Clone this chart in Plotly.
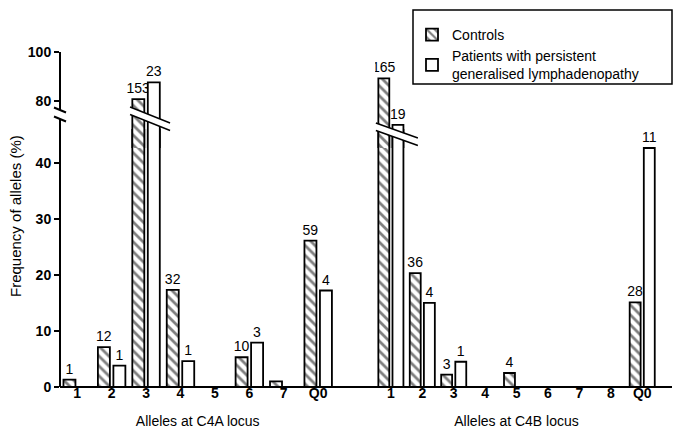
import plotly.graph_objects as go

# ---------------- data ----------------
c4a_alleles = ["1", "2", "3", "4", "5", "6", "7", "Q0"]
c4b_alleles = ["1", "2", "3", "4", "5", "6", "7", "8", "Q0"]

c4a_controls = [1.3, 7.1, 80.9, 17.3, None, 5.3, 1.0, 26.1]
c4a_patients = [None, 3.8, 87.7, 4.6, None, 7.9, None, 17.2]
c4a_controls_n = ["1", "12", "153", "32", "", "10", "", "59"]
c4a_patients_n = ["", "1", "23", "1", "", "3", "", "4"]

c4b_controls = [89.3, 20.3, 2.2, None, 2.5, None, None, None, 15.1]
c4b_patients = [70.4, 15.0, 4.5, None, None, None, None, None, 42.6]
c4b_controls_n = ["165", "36", "3", "", "4", "", "", "", "28"]
c4b_patients_n = ["19", "4", "1", "", "", "", "", "", "11"]

series_names = ["Controls", "Patients with persistent<br>generalised lymphadenopathy"]
lower_ticks = [0, 10, 20, 30, 40]
upper_ticks = [80, 100]

# ---------------- layout geometry ----------------
W, H = 674, 439
L, R, T, B = 60, 2, 52, 52
PW, PH = W - L - R, H - T - B
FONT = "Liberation Sans, Arial, Helvetica, sans-serif"


def py(p):  # pixel y -> paper y
    return (H - B - p) / PH


def pxx(p):  # pixel x -> paper x
    return (p - L) / PW


LEFT_DOM = [0.0, 0.45]
RIGHT_DOM = [0.515, 0.977]
LOWER_TOP_PX, UPPER_BOT_PX = 129, 148
LOWER_RANGE = [0, (H - B - LOWER_TOP_PX) / 5.61]
UPPER_RANGE = [100 - (UPPER_BOT_PX - T) / 2.465, 100]

hatch = dict(shape="\\", size=7, solidity=0.4, fgcolor="black", bgcolor="white")
plain = dict(shape="", fgcolor="black", bgcolor="white")


def split_text(vals, labels, upper):
    out = []
    for v, t in zip(vals, labels):
        if v is None:
            out.append("")
        elif upper:
            out.append(t if v > LOWER_RANGE[1] else "")
        else:
            out.append(t if v <= LOWER_RANGE[1] else "")
    return out


fig = go.Figure()
groups = [
    ("x", c4a_alleles, c4a_controls, c4a_controls_n, c4a_patients, c4a_patients_n),
    ("x2", c4b_alleles, c4b_controls, c4b_controls_n, c4b_patients, c4b_patients_n),
]
for gi, (xa, cats, cv, cn, pv, pn) in enumerate(groups):
    for yi, ya in enumerate(["y", "y2"]):
        upper = ya == "y2"
        for si, (vals, labels, pat) in enumerate([(cv, cn, hatch), (pv, pn, plain)]):
            fig.add_trace(go.Bar(
                x=cats, y=vals, xaxis=xa, yaxis=ya,
                name=series_names[si], legendgroup=str(si),
                showlegend=(gi == 0 and not upper),
                offsetgroup=str(si),
                text=split_text(vals, labels, upper),
                textposition="outside", constraintext="none",
                textfont=dict(family=FONT, size=14, color="black"),
                marker=dict(color="white", pattern=pat,
                            line=dict(color="black", width=1.8)),
                hoverinfo="skip",
            ))

xcommon = dict(type="category", showline=False, showgrid=False, zeroline=False,
               ticks="", ticklabelstandoff=-4,
               tickfont=dict(family=FONT, size=14, color="black", weight="bold"),
               anchor="y", fixedrange=True)
ycommon = dict(showline=False, showgrid=False, zeroline=False, ticks="outside",
               ticklen=5, tickwidth=2, tickcolor="black", anchor="x",
               tickfont=dict(family=FONT, size=14, color="black", weight="bold"))

fig.update_layout(
    width=W, height=H,
    margin=dict(l=L, r=R, t=T, b=B, autoexpand=False),
    paper_bgcolor="white", plot_bgcolor="rgba(0,0,0,0)",
    font=dict(family=FONT, size=14, color="black"),
    barmode="group", bargap=0.1, bargroupgap=0.226,
    xaxis=dict(domain=LEFT_DOM, categoryarray=c4a_alleles, categoryorder="array",
               title=dict(text="Alleles at C4A locus", font=dict(size=14), standoff=16),
               **xcommon),
    xaxis2=dict(domain=RIGHT_DOM, categoryarray=c4b_alleles, categoryorder="array",
                title=dict(text="Alleles at C4B locus", font=dict(size=14), standoff=16),
                **xcommon),
    yaxis=dict(domain=[0, py(LOWER_TOP_PX)], range=LOWER_RANGE, tickvals=lower_ticks, **ycommon),
    yaxis2=dict(domain=[py(UPPER_BOT_PX), 1], range=UPPER_RANGE, tickvals=upper_ticks, **ycommon),
    legend=dict(x=pxx(412), y=py(19), xanchor="left", yanchor="top",
                borderwidth=0, bgcolor="rgba(0,0,0,0)",
                font=dict(family=FONT, size=14, color="black"),
                traceorder="normal", itemclick=False),
    showlegend=True,
)

shapes = []
LINE = dict(color="black", width=1.5)
# legend frame
shapes.append(dict(type="rect", xref="paper", yref="paper",
                   x0=pxx(413), x1=pxx(672), y0=py(84), y1=py(10),
                   line=dict(color="black", width=1.5), fillcolor="rgba(0,0,0,0)"))
# x baseline
shapes.append(dict(type="line", xref="paper", yref="paper", x0=0, x1=1, y0=0, y1=0,
                   line=dict(color="black", width=2)))
# broken y axis line
shapes.append(dict(type="line", xref="paper", yref="paper", x0=0, x1=0, y0=0, y1=py(119),
                   line=dict(color="black", width=2)))
shapes.append(dict(type="line", xref="paper", yref="paper", x0=0, x1=0, y0=py(110), y1=1,
                   line=dict(color="black", width=2)))
for yc in (110, 119):
    shapes.append(dict(type="line", xref="paper", yref="paper",
                       x0=pxx(54), x1=pxx(66), y0=py(yc - 2.5), y1=py(yc + 2.5),
                       line=dict(color="black", width=2)))


def cat_center_px(dom, n, i):
    return L + PW * (dom[0] + (i + 0.5) / n * (dom[1] - dom[0]))


# break bands across the tall bars
breaks = [
    (cat_center_px(LEFT_DOM, len(c4a_alleles), 2) + 4, 20, 115, 0.4),
    (cat_center_px(RIGHT_DOM, len(c4b_alleles), 0) + 6, 21, 130.5, 0.36),
]
GAP = 7.5
for xc, hw, yc, slope in breaks:
    xa, xb = xc - hw, xc + hw
    ya, yb = yc - slope * hw, yc + slope * hw
    path = "M {:.4f},{:.4f} L {:.4f},{:.4f} L {:.4f},{:.4f} L {:.4f},{:.4f} Z".format(
        pxx(xa), py(ya), pxx(xb), py(yb), pxx(xb), py(yb + GAP), pxx(xa), py(ya + GAP))
    shapes.append(dict(type="path", xref="paper", yref="paper", path=path,
                       fillcolor="white", line=dict(width=0)))
    for off in (0, GAP):
        shapes.append(dict(type="line", xref="paper", yref="paper",
                           x0=pxx(xa), x1=pxx(xb), y0=py(ya + off), y1=py(yb + off),
                           line=LINE))

fig.update_layout(shapes=shapes)

fig.add_annotation(text="Frequency of alleles (%)", textangle=-90, showarrow=False,
                   xref="paper", yref="paper", x=pxx(16), y=py(216),
                   xanchor="center", yanchor="middle",
                   font=dict(family=FONT, size=15, color="black"))

fig.write_html("out.html", config={"displayModeBar": False},
               post_script="document.body.style.margin='0px';")
